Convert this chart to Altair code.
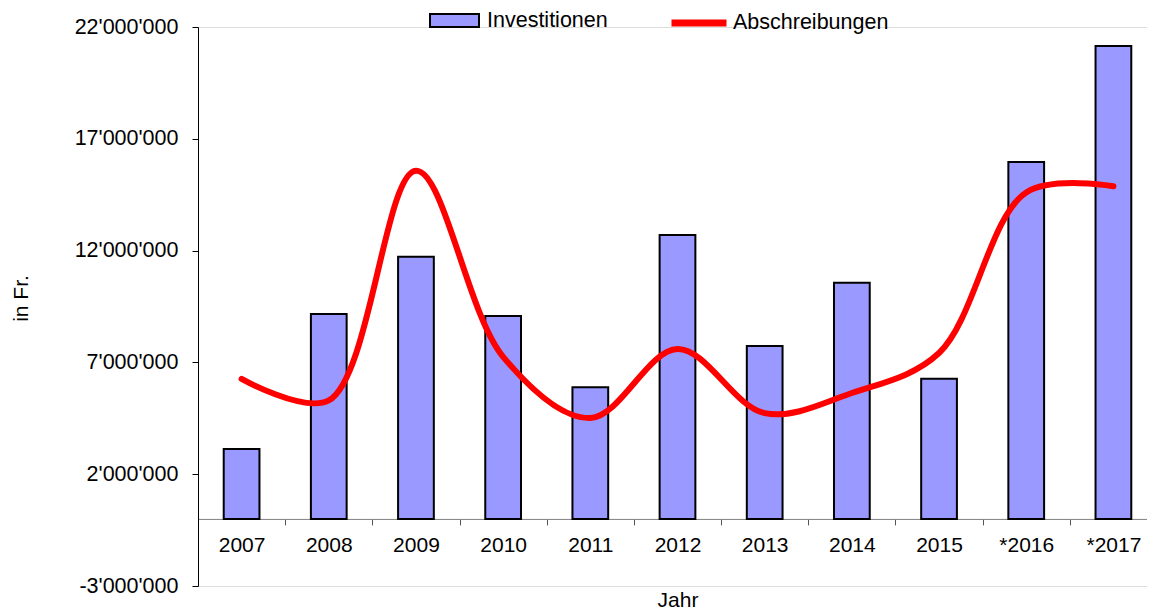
import altair as alt
import pandas as pd

years = ["2007", "2008", "2009", "2010", "2011", "2012", "2013", "2014", "2015", "*2016", "*2017"]
investitionen = [3130000, 9160000, 11730000, 9070000, 5890000, 12700000, 7730000, 10560000, 6270000, 15960000, 21150000]
abschreibungen = [6260000, 5300000, 15570000, 7250000, 4510000, 7600000, 4730000, 5630000, 7420000, 14600000, 14880000]
y_ticks = [-3000000, 2000000, 7000000, 12000000, 17000000, 22000000]

Y_MIN, Y_MAX = -3000000, 22000000
W, H = 959, 559
FONT = "Liberation Sans"

df = pd.DataFrame({
    "Jahr": years,
    "Investitionen": investitionen,
    "Abschreibungen": abschreibungen,
    "s_bar": ["Investitionen"] * len(years),
    "s_line": ["Abschreibungen"] * len(years),
})

label_expr = "(datum.value < 0 ? '-' : '') + replace(format(abs(datum.value), ','), /,/g, \"'\")"

x_enc = alt.X(
    "Jahr:N",
    sort=None,
    scale=alt.Scale(paddingInner=0, paddingOuter=0),
    axis=alt.Axis(
        title="Jahr",
        labelAngle=0,
        tickBand="extent",
        offset=-H * (0 - Y_MIN) / (Y_MAX - Y_MIN),
        domainColor="#808080",
        tickColor="#555555",
        tickSize=6,
        labelPadding=10,
        titlePadding=34,
        labelFontSize=21,
        titleFontSize=21,
        titleFontWeight="normal",
        labelFont=FONT,
        titleFont=FONT,
        labelColor="black",
        titleColor="black",
    ),
)

y_scale = alt.Scale(domain=[Y_MIN, Y_MAX], nice=False, zero=False)

bars = alt.Chart(df).mark_bar(
    stroke="black", strokeWidth=2, width=alt.RelativeBandSize(0.41)
).encode(
    x=x_enc,
    y=alt.Y(
        "Investitionen:Q",
        scale=y_scale,
        axis=alt.Axis(
            title="in Fr.",
            values=y_ticks,
            labelExpr=label_expr,
            grid=False,
            domainColor="black",
            tickColor="black",
            tickSize=6,
            labelPadding=14,
            labelFontSize=21.5,
            titleFontSize=21,
            titleFontWeight="normal",
            labelFont=FONT,
            titleFont=FONT,
            labelColor="black",
            titleColor="black",
            titleX=-167,
            titleY=271,
        ),
    ),
    y2=alt.datum(0),
    fill=alt.Fill(
        "s_bar:N",
        scale=alt.Scale(domain=["Investitionen"], range=["#9999ff"]),
        legend=alt.Legend(
            title=None,
            orient="none",
            legendX=231,
            legendY=-32,
            padding=0,
            symbolType="M-1,-0.27L1,-0.27L1,0.27L-1,0.27Z",
            symbolSize=2401,
            symbolStrokeColor="black",
            symbolStrokeWidth=2,
            labelFontSize=21.5,
            labelFont=FONT,
            labelColor="black",
            labelOffset=7,
        ),
    ),
)

line = alt.Chart(df).mark_line(
    strokeWidth=6, interpolate="catmull-rom", strokeCap="round"
).encode(
    x=x_enc,
    y=alt.Y("Abschreibungen:Q", scale=y_scale),
    stroke=alt.Stroke(
        "s_line:N",
        scale=alt.Scale(domain=["Abschreibungen"], range=["#ff0000"]),
        legend=alt.Legend(
            title=None,
            orient="none",
            legendX=470,
            legendY=-35,
            padding=0,
            symbolType="M-1,0L1,0",
            symbolSize=3025,
            symbolStrokeWidth=7,
            labelFontSize=21.5,
            labelFont=FONT,
            labelColor="black",
            labelOffset=3,
        ),
    ),
)

chart = alt.layer(bars, line).resolve_scale(fill="independent", stroke="independent").properties(
    width=W,
    height=H,
    autosize=alt.AutoSizeParams(type="none"),
    padding={"left": 190, "top": 19, "right": -10, "bottom": 26},
).configure_view(stroke=None).configure(background="white")

chart.save("out.html", embed_options={"renderer": "svg", "actions": False})
